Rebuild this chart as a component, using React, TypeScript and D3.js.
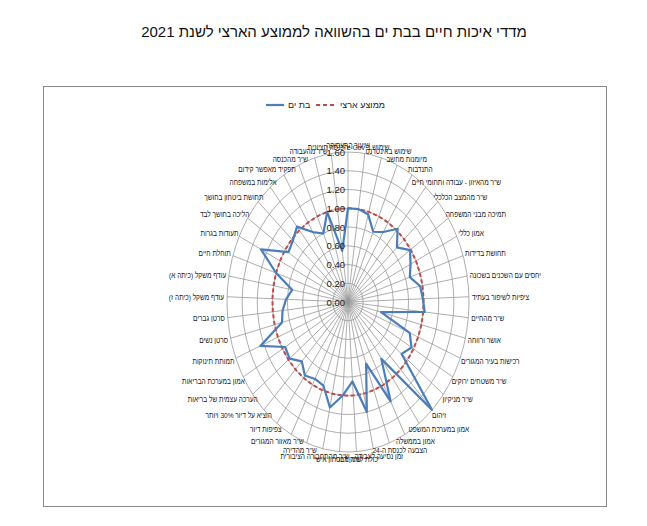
import React from 'react';
import * as d3 from 'd3';

const title = "מדדי איכות חיים בבת ים בהשוואה לממוצע הארצי לשנת 2021";

const categories = [
  "שיעור התעסוקה",
  "שימוש ב e-Gov",
  "שימוש באינטרנט",
  "מיומנות מחשב",
  "התנדבות",
  "ש\"ר מהאיזון - עבודה ותחומי חיים",
  "ש\"ר מהמצב הכלכלי",
  "תמיכה מבני המשפחה",
  "אמון כללי",
  "תחושת בדידות",
  "יחסים עם השכנים בשכונה",
  "ציפיות לשיפור בעתיד",
  "ש\"ר מהחיים",
  "אושר ורווחה",
  "רכישות בעיר המגורים",
  "ש\"ר משטחים ירוקים",
  "ש\"ר מניקיון",
  "זיהום",
  "אמון במערכת המשפט",
  "אמון בממשלה",
  "הצבעה לכנסת ה-24",
  "זמן נסיעה לעבודה",
  "יכולת לממן דיור",
  "ש\"ר מבטחון אישי",
  "ש\"ר מהתחבורה הציבורית",
  "ש\"ר מהדירה",
  "ש\"ר מאזור המגורים",
  "צפיפות דיור",
  "הוציא על דיור 30% ויותר",
  "הערכה עצמית של בריאות",
  "אמון במערכת הבריאות",
  "תמותת תינוקות",
  "סרטן נשים",
  "סרטן גברים",
  "עודף משקל (כיתה ז)",
  "עודף משקל (כיתה א)",
  "תוחלת חיים",
  "תעודות בגרות",
  "הליכה בחושך לבד",
  "תחושת ביטחון בחושך",
  "אלימות במשפחה",
  "תפקיד מאפשר קידום",
  "ש\"ר מהכנסה",
  "ש\"ר מהעבודה",
  "הכנסה חציונית",
];

const batYam = [
  1.00, 1.00, 0.97, 0.82, 0.88, 1.02, 0.87, 0.99, 0.92, 0.86,
  0.97, 0.99, 1.02, 0.45, 0.88, 0.97, 0.90, 1.60, 0.75, 1.20,
  0.70, 1.20, 0.85, 1.00, 1.15, 0.95, 0.93, 0.97, 0.88, 0.98,
  0.96, 1.25, 0.90, 0.87, 0.82, 0.75, 1.00, 1.28, 0.95, 0.98,
  1.05, 0.88, 0.80, 1.00, 0.55,
];

const nationalAverage = [
  1, 1, 1, 1, 1, 1, 1, 1, 1, 1,
  1, 1, 1, 1, 1, 1, 1, 1, 1, 1,
  1, 1, 1, 1, 1, 1, 1, 1, 1, 1,
  1, 1, 1, 1, 1, 1, 1, 1, 1, 1,
  1, 1, 1, 1, 1,
];

const radialTicks = [0, 0.2, 0.4, 0.6, 0.8, 1.0, 1.2, 1.4, 1.6];
const seriesNames = ["בת ים", "ממוצע ארצי"];

const BLUE = "#4a7ebb";
const RED = "#be4b48";
const GRID = "#999999";
const FONT = "'Liberation Sans', Arial, sans-serif";
const LABEL_SIZE = 8;
const SQUEEZE = 0.82;

let measureCtx: CanvasRenderingContext2D | null = null;
function measure(t: string): number {
  if (!measureCtx) {
    const c = document.createElement('canvas');
    measureCtx = c.getContext('2d');
  }
  if (!measureCtx) return t.length * 4;
  measureCtx.font = `${LABEL_SIZE}px 'Liberation Sans'`;
  return measureCtx.measureText(t).width;
}

export default function App() {
  const W = 647, H = 526;
  const cx = 348, cy = 302;
  const maxV = radialTicks[radialTicks.length - 1];
  const ry = d3.scaleLinear().domain([0, maxV]).range([0, 150]);
  const rx = d3.scaleLinear().domain([0, maxV]).range([0, 121]);
  const n = categories.length;
  const angle = d3.scaleLinear().domain([0, n]).range([0, 2 * Math.PI]);
  const pt = (i: number, v: number): [number, number] => [
    cx + rx(v) * Math.sin(angle(i)),
    cy - ry(v) * Math.cos(angle(i)),
  ];
  const line = d3.line().curve(d3.curveLinearClosed);
  const bluePath = line(batYam.map((v, i) => pt(i, v))) || "";
  const redPath = line(nationalAverage.map((v, i) => pt(i, v))) || "";

  return (
    <svg width={W} height={H} style={{ position: 'absolute', left: 0, top: 0, background: '#fff' }}
      fontFamily={FONT}>
      <rect x={0} y={0} width={W} height={H} fill="#fff" />
      <text x={334} y={36.5} textAnchor="middle" fontSize={15} fill="#111" direction="rtl">{title}</text>
      <rect x={43.5} y={86.5} width={563} height={420} fill="none" stroke="#8a8a8a" strokeWidth={1} />

      {/* legend */}
      <g fontSize={9} fill="#222">
        <line x1={266} x2={284} y1={105} y2={105} stroke={BLUE} strokeWidth={2.2} />
        <text x={288} y={108} textAnchor="end" direction="rtl">{seriesNames[0]}</text>
        <line x1={316} x2={336} y1={105} y2={105} stroke={RED} strokeWidth={2} strokeDasharray="4 3" />
        <text x={340} y={108} textAnchor="end" direction="rtl">{seriesNames[1]}</text>
      </g>

      {/* grid rings */}
      {radialTicks.slice(1).map((t) => (
        <ellipse key={t} cx={cx} cy={cy} rx={rx(t)} ry={ry(t)} fill="none" stroke={GRID} strokeWidth={0.8} />
      ))}
      {/* spokes */}
      {categories.map((c, i) => {
        const [x, y] = pt(i, maxV);
        return <line key={i} x1={cx} y1={cy} x2={x} y2={y} stroke={GRID} strokeWidth={0.8} />;
      })}

      {/* series */}
      <path d={redPath} fill="none" stroke={RED} strokeWidth={2} strokeDasharray="4 2.5" />
      <path d={bluePath} fill="none" stroke={BLUE} strokeWidth={2.2} strokeLinejoin="round" />

      {/* radial tick labels */}
      {radialTicks.map((t) => (
        <text key={t} x={cx - 3} y={cy - ry(t) + 3.5} textAnchor="end" fontSize={9.5} fill="#222">
          {t.toFixed(2)}
        </text>
      ))}

      {/* category labels */}
      {categories.map((c, i) => {
        const a = angle(i);
        const s = Math.sin(a), co = Math.cos(a);
        const [x, y] = pt(i, maxV);
        const w = measure(c) * SQUEEZE;
        const gap = 3;
        const lx = x + (gap + w / 2) * s;
        const ly = y - (gap + 4) * co + 3;
        return (
          <g key={c + i} transform={`translate(${lx},${ly}) scale(${SQUEEZE},1)`}>
            <text x={0} y={0} textAnchor="middle" direction="rtl" fontSize={LABEL_SIZE} fill="#222">{c}</text>
          </g>
        );
      })}
    </svg>
  );
}
